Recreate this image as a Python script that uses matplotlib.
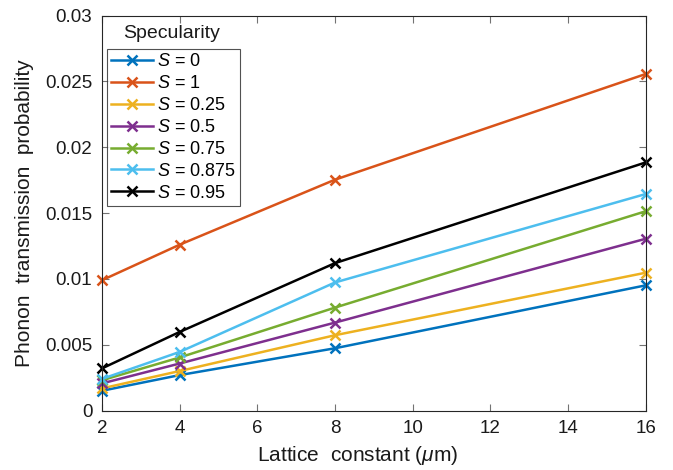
import numpy as np
import matplotlib
matplotlib.use('Agg')
import matplotlib.pyplot as plt

plt.rcParams['font.family'] = 'Liberation Sans'
plt.rcParams['mathtext.fontset'] = 'custom'
plt.rcParams['mathtext.it'] = 'Liberation Sans:italic'
plt.rcParams['mathtext.rm'] = 'Liberation Sans'

# lattice constant (um)
lattice = [2, 4, 8, 16]

# transmission probability per specularity
specularity = ['0', '1', '0.25', '0.5', '0.75', '0.875', '0.95']
s0 = [0.0015, 0.00269, 0.00473, 0.00951]
s1 = [0.0099, 0.0126, 0.01754, 0.02557]
s025 = [0.00168, 0.0030, 0.00572, 0.01047]
s05 = [0.00206, 0.00357, 0.00668, 0.01305]
s075 = [0.0023, 0.00403, 0.00782, 0.01514]
s0875 = [0.0024, 0.00445, 0.00973, 0.01645]
s095 = [0.0032, 0.00597, 0.0112, 0.01885]
series = [s0, s1, s025, s05, s075, s0875, s095]

colors = [(0, 0.447, 0.741), (0.85, 0.325, 0.098), (0.929, 0.694, 0.125),
          (0.494, 0.184, 0.556), (0.466, 0.674, 0.188), (0.301, 0.745, 0.933), 'k']

yticks = [0, 0.005, 0.01, 0.015, 0.02, 0.025, 0.03]
ytick_labels = ['0', '0.005', '0.01', '0.015', '0.02', '0.025', '0.03']

fig = plt.figure(figsize=(6.73, 4.70), dpi=100)
ax = fig.add_axes([102/673, 1 - 410.5/470, 543.7/673, 394.8/470])

for vals, lab, c in zip(series, specularity, colors):
    ax.plot(lattice, vals, color=c, linewidth=1.8, marker='x', markersize=7.5,
            markeredgewidth=1.8, label='$S$ = ' + lab, clip_on=False)

ax.set_xlim(2, 16)
ax.set_ylim(0, 0.03)
ax.set_xticks(np.arange(2, 17, 2))
ax.set_yticks(yticks)
ax.set_yticklabels(ytick_labels)

axcol = (0.15, 0.15, 0.15)
for sp in ax.spines.values():
    sp.set_color(axcol)
    sp.set_linewidth(0.8)
ax.tick_params(direction='in', top=True, right=True, length=5, width=0.8,
               colors=(0.45, 0.45, 0.45), labelsize=13.5, pad=7)
for t in ax.get_xticklabels() + ax.get_yticklabels():
    t.set_color((0.1, 0.1, 0.1))

ax.set_xlabel('Lattice  constant ($\\mu$m)', fontsize=15, color=(0.1, 0.1, 0.1))
ax.xaxis.set_label_coords(0.471, -0.085)
ax.set_ylabel('Phonon  transmission  probability', fontsize=15, labelpad=8,
              color=(0.1, 0.1, 0.1))

leg = ax.legend(loc='upper left', bbox_to_anchor=(0.009, 0.916), borderaxespad=0,
                fontsize=13, frameon=True, fancybox=False, edgecolor=axcol,
                handlelength=2.3, handletextpad=0.2, labelspacing=0.27,
                borderpad=0.25)
leg.get_frame().set_linewidth(0.8)
ax.text(0.128, 0.955, 'Specularity', transform=ax.transAxes, fontsize=14,
        ha='center', va='center', color=(0.1, 0.1, 0.1))

plt.savefig('out.png', dpi=100)
